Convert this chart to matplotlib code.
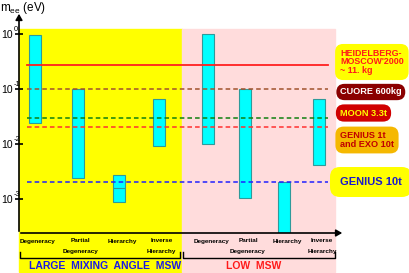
import numpy as np
import matplotlib
matplotlib.use("Agg")
import matplotlib.pyplot as plt
from matplotlib.patches import Rectangle, FancyArrowPatch

plt.rcParams['font.family'] = ['Liberation Sans', 'DejaVu Sans']
plt.rcParams['mathtext.fontset'] = 'custom'
plt.rcParams['mathtext.rm'] = 'Liberation Sans'
plt.rcParams['mathtext.it'] = 'Liberation Sans:italic'
plt.rcParams['mathtext.bf'] = 'Liberation Sans:bold'

# bar ranges of m_ee (eV) for each scenario
categories = ["Degeneracy", "Partial\nDegeneracy", "Hierarchy", "Inverse\nHierarchy",
              "Degeneracy", "Partial\nDegeneracy", "Hierarchy", "Inverse\nHierarchy"]
bar_top = [0.95, 0.10, 0.0027, 0.066, 1.0, 0.10, 0.002, 0.066]
bar_bottom = [0.024, 0.0024, 0.0009, 0.0092, 0.010, 0.00105, 0.0001, 0.0042]
hier_mark = 0.0016  # line inside the LMA hierarchy bar

groups = ["LARGE  MIXING  ANGLE  MSW", "LOW  MSW"]

# y ticks
tick_vals = [1, 0.1, 0.01, 0.001]
tick_exp = ["0", "-1", "-2", "-3"]

# experimental sensitivities
exp_values = [0.275, 0.10, 0.030, 0.020, 0.002]
exp_styles = ['-', '--', '--', '--', '--']
exp_colors = ['#ff2020', '#a0522d', '#108010', '#ff3030', '#2020ff']
exp_names = ["HEIDELBERG-\nMOSCOW'2000\n~ 11. kg", "CUORE 600kg", "MOON 3.3t",
             "GENIUS 1t\nand EXO 10t", "GENIUS 10t"]

W, H = 409, 273


def fx(x):
    return x / W


def fy(y):
    return 1 - y / H


fig = plt.figure(figsize=(W / 100, H / 100), dpi=100)

# coloured backgrounds (extend under the category labels)
fig.add_artist(Rectangle((fx(19), fy(272)), fx(163), 243 / H, color='#ffff00',
                         transform=fig.transFigure, zorder=-5))
fig.add_artist(Rectangle((fx(182), fy(272)), fx(153), 243 / H, color='#ffdcdc',
                         transform=fig.transFigure, zorder=-5))

ax = fig.add_axes([fx(19), fy(233), 316 / W, 204 / H])
ax.set_zorder(2)
ax.set_facecolor('none')
ax.set_yscale('log')
ax.set_ylim(10 ** (-199 / 55), 10 ** (5 / 55))
ax.set_xlim(0, 316)

bar_x = [16, 58.5, 100, 139.5, 189, 226, 265, 300]
tops = np.array(bar_top)
bots = np.array(bar_bottom)
ax.bar(bar_x, tops - bots, bottom=bots, width=12, color='#00ffff',
       edgecolor='#2e9a9a', linewidth=0.8, zorder=2)
ax.hlines(hier_mark, bar_x[2] - 6, bar_x[2] + 6, color='#2e9a9a', lw=0.8, zorder=3)

for v, ls, c in zip(exp_values, exp_styles, exp_colors):
    if ls == '-':
        ax.axhline(v, xmin=0.025, xmax=0.978, color=c, lw=1.3, zorder=3)
    else:
        ax.axhline(v, xmin=0.025, xmax=0.978, color=c, lw=1.1, ls=(0, (3, 2)), zorder=3)

for s in ax.spines.values():
    s.set_visible(False)
ax.set_xticks([])
ax.set_yticks(tick_vals)
ax.set_yticklabels([])
ax.yaxis.set_minor_locator(matplotlib.ticker.NullLocator())
ax.tick_params(axis='y', direction='inout', length=6, width=1.2)

# tick labels drawn as 10 + superscript
for v, e in zip(tick_vals, tick_exp):
    ax.annotate("10", xy=(0, v), xycoords=('axes fraction', 'data'),
                xytext=(-4.2, -1), textcoords='offset points',
                ha='right', va='center', fontsize=7.5, annotation_clip=False)
    ax.annotate(e, xy=(0, v), xycoords=('axes fraction', 'data'),
                xytext=(-4.0, 3.2), textcoords='offset points',
                ha='left', va='center', fontsize=5.5, annotation_clip=False)

# axis arrows
fig.add_artist(FancyArrowPatch(
    (fx(19), fy(234)), (fx(19), fy(11)), transform=fig.transFigure,
    arrowstyle='-|>,head_length=3.5,head_width=2', color='black', lw=1.2, zorder=5))
fig.add_artist(FancyArrowPatch(
    (fx(18), fy(233)), (fx(345), fy(233)), transform=fig.transFigure,
    arrowstyle='-|>,head_length=3.5,head_width=2', color='black', lw=1.2, zorder=5))

fig.text(fx(0), fy(8), r'm$_{\rm ee}$ (eV)', fontsize=8.5, va='center', ha='left')

# category labels
for x, lab in zip(bar_x, categories):
    parts = lab.split('\n')
    xc = fx(19 + x + 3)
    fig.text(xc, fy(241), parts[0], fontsize=4.6, fontweight='bold', ha='center', va='center')
    if len(parts) > 1:
        fig.text(xc, fy(251), parts[1], fontsize=4.6, fontweight='bold', ha='center', va='center')

# group brackets
for x0, x1 in [(20, 180), (183, 335)]:
    fig.add_artist(plt.Line2D([fx(x0), fx(x0), fx(x1), fx(x1)],
                              [fy(252), fy(258), fy(258), fy(252)],
                              transform=fig.transFigure, color='black', lw=1))
fig.text(fx(105), fy(266), groups[0], fontsize=7.5, fontweight='bold', color='#1a1ae6',
         ha='center', va='center')
fig.text(fx(254), fy(266), groups[1], fontsize=7.5, fontweight='bold', color='#ff1a1a',
         ha='center', va='center')

# experiment labels with blob backgrounds
label_y = [62, 92, 113, 140, 182]
label_fc = ['#ffff00', '#8b0000', '#d00000', '#f5b800', '#ffff00']
label_tc = ['#ff1a1a', 'white', '#ffff00', '#c00000', '#1a1acc']
label_fs = [6.4, 6.6, 6.6, 6.6, 8]
label_pad = [0.55, 0.4, 0.45, 0.5, 0.9]
for name, y, fc, tc, fs, pd in zip(exp_names, label_y, label_fc, label_tc, label_fs, label_pad):
    fig.text(fx(340), fy(y), name, fontsize=fs, fontweight='bold', color=tc,
             ha='left', va='center', linespacing=0.95,
             bbox=dict(boxstyle=f'round,pad={pd},rounding_size=0.9', fc=fc, ec='none'))

fig.savefig('out.png', dpi=100)
